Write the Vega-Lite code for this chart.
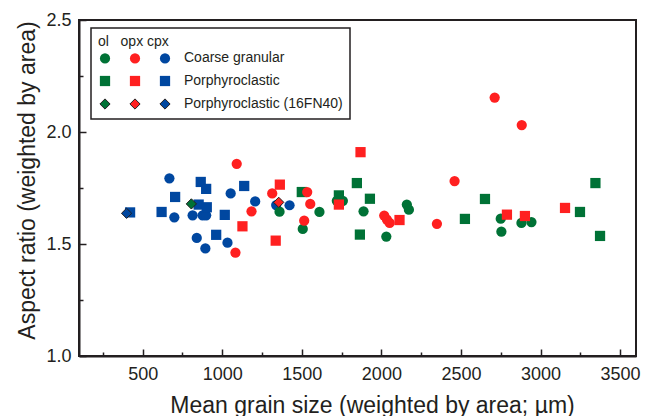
{
  "$schema": "https://vega.github.io/schema/vega-lite/v6.json",
  "width": 557,
  "height": 336,
  "autosize": {"type": "none"},
  "padding": {"left": 79, "top": 20, "right": 10, "bottom": 60},
  "background": "white",
  "config": {
    "font": "Liberation Sans",
    "view": {"stroke": "#231f20", "strokeWidth": 2},
    "legend": {"symbolSize": 144},
    "axis": {
      "domainColor": "#231f20", "domainWidth": 2,
      "tickColor": "#231f20", "tickWidth": 1.5,
      "labelColor": "#231f20", "titleColor": "#231f20",
      "labelFont": "Liberation Sans", "titleFont": "Liberation Sans",
      "labelFontSize": 18, "titleFontSize": 23, "titleFontWeight": "normal",
      "grid": false
    }
  },
  "data": {
    "values": [
      {"series": "cpx|Coarse granular", "grain_size": 668, "aspect_ratio": 1.793},
      {"series": "cpx|Coarse granular", "grain_size": 699, "aspect_ratio": 1.619},
      {"series": "cpx|Coarse granular", "grain_size": 814, "aspect_ratio": 1.628},
      {"series": "cpx|Coarse granular", "grain_size": 877, "aspect_ratio": 1.628},
      {"series": "cpx|Coarse granular", "grain_size": 899, "aspect_ratio": 1.628},
      {"series": "cpx|Coarse granular", "grain_size": 840, "aspect_ratio": 1.527},
      {"series": "cpx|Coarse granular", "grain_size": 894, "aspect_ratio": 1.480},
      {"series": "cpx|Coarse granular", "grain_size": 1053, "aspect_ratio": 1.726},
      {"series": "cpx|Coarse granular", "grain_size": 1207, "aspect_ratio": 1.690},
      {"series": "cpx|Coarse granular", "grain_size": 1339, "aspect_ratio": 1.674},
      {"series": "cpx|Coarse granular", "grain_size": 1423, "aspect_ratio": 1.673},
      {"series": "cpx|Coarse granular", "grain_size": 1033, "aspect_ratio": 1.506},
      {"series": "cpx|Porphyroclastic", "grain_size": 421, "aspect_ratio": 1.641},
      {"series": "cpx|Porphyroclastic", "grain_size": 865, "aspect_ratio": 1.777},
      {"series": "cpx|Porphyroclastic", "grain_size": 899, "aspect_ratio": 1.746},
      {"series": "cpx|Porphyroclastic", "grain_size": 704, "aspect_ratio": 1.710},
      {"series": "cpx|Porphyroclastic", "grain_size": 852, "aspect_ratio": 1.676},
      {"series": "cpx|Porphyroclastic", "grain_size": 903, "aspect_ratio": 1.664},
      {"series": "cpx|Porphyroclastic", "grain_size": 619, "aspect_ratio": 1.643},
      {"series": "cpx|Porphyroclastic", "grain_size": 962, "aspect_ratio": 1.541},
      {"series": "cpx|Porphyroclastic", "grain_size": 1138, "aspect_ratio": 1.759},
      {"series": "cpx|Porphyroclastic", "grain_size": 1016, "aspect_ratio": 1.630},
      {"series": "ol|Coarse granular", "grain_size": 1360, "aspect_ratio": 1.644},
      {"series": "ol|Coarse granular", "grain_size": 1611, "aspect_ratio": 1.643},
      {"series": "ol|Coarse granular", "grain_size": 1506, "aspect_ratio": 1.567},
      {"series": "ol|Coarse granular", "grain_size": 1720, "aspect_ratio": 1.693},
      {"series": "ol|Coarse granular", "grain_size": 1758, "aspect_ratio": 1.693},
      {"series": "ol|Coarse granular", "grain_size": 1888, "aspect_ratio": 1.646},
      {"series": "ol|Coarse granular", "grain_size": 2031, "aspect_ratio": 1.533},
      {"series": "ol|Coarse granular", "grain_size": 2160, "aspect_ratio": 1.676},
      {"series": "ol|Coarse granular", "grain_size": 2173, "aspect_ratio": 1.653},
      {"series": "ol|Coarse granular", "grain_size": 2750, "aspect_ratio": 1.613},
      {"series": "ol|Coarse granular", "grain_size": 2754, "aspect_ratio": 1.555},
      {"series": "ol|Coarse granular", "grain_size": 2880, "aspect_ratio": 1.594},
      {"series": "ol|Coarse granular", "grain_size": 2943, "aspect_ratio": 1.598},
      {"series": "ol|Porphyroclastic", "grain_size": 1500, "aspect_ratio": 1.732},
      {"series": "ol|Porphyroclastic", "grain_size": 1846, "aspect_ratio": 1.772},
      {"series": "ol|Porphyroclastic", "grain_size": 1733, "aspect_ratio": 1.717},
      {"series": "ol|Porphyroclastic", "grain_size": 1928, "aspect_ratio": 1.702},
      {"series": "ol|Porphyroclastic", "grain_size": 1865, "aspect_ratio": 1.542},
      {"series": "ol|Porphyroclastic", "grain_size": 2525, "aspect_ratio": 1.612},
      {"series": "ol|Porphyroclastic", "grain_size": 2651, "aspect_ratio": 1.701},
      {"series": "ol|Porphyroclastic", "grain_size": 3345, "aspect_ratio": 1.772},
      {"series": "ol|Porphyroclastic", "grain_size": 3248, "aspect_ratio": 1.643},
      {"series": "ol|Porphyroclastic", "grain_size": 3374, "aspect_ratio": 1.536},
      {"series": "opx|Coarse granular", "grain_size": 1091, "aspect_ratio": 1.858},
      {"series": "opx|Coarse granular", "grain_size": 1314, "aspect_ratio": 1.726},
      {"series": "opx|Coarse granular", "grain_size": 1534, "aspect_ratio": 1.732},
      {"series": "opx|Coarse granular", "grain_size": 1553, "aspect_ratio": 1.679},
      {"series": "opx|Coarse granular", "grain_size": 1184, "aspect_ratio": 1.646},
      {"series": "opx|Coarse granular", "grain_size": 1515, "aspect_ratio": 1.604},
      {"series": "opx|Coarse granular", "grain_size": 1083, "aspect_ratio": 1.462},
      {"series": "opx|Coarse granular", "grain_size": 2018, "aspect_ratio": 1.627},
      {"series": "opx|Coarse granular", "grain_size": 2035, "aspect_ratio": 1.609},
      {"series": "opx|Coarse granular", "grain_size": 2052, "aspect_ratio": 1.594},
      {"series": "opx|Coarse granular", "grain_size": 2460, "aspect_ratio": 1.781},
      {"series": "opx|Coarse granular", "grain_size": 2349, "aspect_ratio": 1.590},
      {"series": "opx|Coarse granular", "grain_size": 2712, "aspect_ratio": 2.154},
      {"series": "opx|Coarse granular", "grain_size": 2882, "aspect_ratio": 2.031},
      {"series": "opx|Porphyroclastic", "grain_size": 1362, "aspect_ratio": 1.765},
      {"series": "opx|Porphyroclastic", "grain_size": 1127, "aspect_ratio": 1.579},
      {"series": "opx|Porphyroclastic", "grain_size": 1336, "aspect_ratio": 1.515},
      {"series": "opx|Porphyroclastic", "grain_size": 1733, "aspect_ratio": 1.676},
      {"series": "opx|Porphyroclastic", "grain_size": 2114, "aspect_ratio": 1.607},
      {"series": "opx|Porphyroclastic", "grain_size": 2789, "aspect_ratio": 1.631},
      {"series": "opx|Porphyroclastic", "grain_size": 2902, "aspect_ratio": 1.625},
      {"series": "opx|Porphyroclastic", "grain_size": 3154, "aspect_ratio": 1.661},
      {"series": "opx|Porphyroclastic", "grain_size": 1869, "aspect_ratio": 1.910},
      {"series": "ol|Porphyroclastic (16FN40)", "grain_size": 806, "aspect_ratio": 1.679},
      {"series": "opx|Porphyroclastic (16FN40)", "grain_size": 1355, "aspect_ratio": 1.686},
      {"series": "cpx|Porphyroclastic (16FN40)", "grain_size": 399, "aspect_ratio": 1.637}
    ]
  },
  "mark": {"type": "point", "filled": true, "opacity": 1, "strokeWidth": 1},
  "encoding": {
    "x": {
      "field": "grain_size", "type": "quantitative",
      "scale": {"domain": [100, 3600], "nice": false, "zero": false},
      "axis": {
        "title": "Mean grain size (weighted by area; µm)",
        "values": [250, 500, 750, 1000, 1250, 1500, 1750, 2000, 2250, 2500, 2750, 3000, 3250, 3500],
        "format": "d",
        "labelExpr": "datum.value % 500 === 0 ? datum.label : ''",
        "tickSize": {"condition": {"test": "datum.value % 500 === 0", "value": -7}, "value": -4},
        "labelPadding": 16,
        "titlePadding": 11,
        "titleX": 293
      }
    },
    "y": {
      "field": "aspect_ratio", "type": "quantitative",
      "scale": {"domain": [1.0, 2.5], "nice": false, "zero": false},
      "axis": {
        "title": "Aspect ratio (weighted by area)",
        "values": [1.0, 1.25, 1.5, 1.75, 2.0, 2.25, 2.5],
        "labelExpr": "(datum.value * 2) % 1 === 0 ? format(datum.value, '.1f') : ''",
        "tickSize": {"condition": {"test": "(datum.value * 2) % 1 === 0", "value": -7}, "value": -4},
        "labelPadding": 15,
        "titlePadding": 6,
        "titleY": 160
      }
    },
    "color": {
      "field": "series", "type": "nominal",
      "scale": {
        "domain": ["ol|Coarse granular", "opx|Coarse granular", "cpx|Coarse granular", "ol|Porphyroclastic", "opx|Porphyroclastic", "cpx|Porphyroclastic", "ol|Porphyroclastic (16FN40)", "opx|Porphyroclastic (16FN40)", "cpx|Porphyroclastic (16FN40)"],
        "range": ["#007236", "#ff2020", "#0047a0", "#007236", "#ff2020", "#0047a0", "#007236", "#ff2020", "#0047a0"]
      },
      "legend": {
        "orient": "none", "legendX": 12, "legendY": 8,
        "direction": "horizontal",
        "columns": 3,
        "title": "ol\u00a0\u00a0\u00a0opx cpx",
        "titleFont": "Liberation Sans", "titleFontSize": 14, "titleFontWeight": "normal", "titleColor": "#231f20",
        "titlePadding": 2,
        "labelFont": "Liberation Sans", "labelFontSize": 14, "labelColor": "#231f20",
        "labelOffset": 12,
        "labelExpr": "split(datum.label, '|')[0] === 'cpx' ? split(datum.label, '|')[1] : ''",
        "strokeColor": "#231f20", "fillColor": "white",
        "padding": 7, "rowPadding": 7, "columnPadding": 3,
        "symbolSize": 144,
        "symbolStrokeWidth": 1, "symbolOpacity": 1,
        "encode": {
          "legend": {"update": {"strokeWidth": {"value": 1.5}}}
        }
      }
    },
    "shape": {
      "field": "series", "type": "nominal",
      "scale": {
        "domain": ["ol|Coarse granular", "opx|Coarse granular", "cpx|Coarse granular", "ol|Porphyroclastic", "opx|Porphyroclastic", "cpx|Porphyroclastic", "ol|Porphyroclastic (16FN40)", "opx|Porphyroclastic (16FN40)", "cpx|Porphyroclastic (16FN40)"],
        "range": ["circle", "circle", "circle", "square", "square", "square", "diamond", "diamond", "diamond"]
      }
    },
    "stroke": {
      "field": "series", "type": "nominal",
      "scale": {
        "domain": ["ol|Coarse granular", "opx|Coarse granular", "cpx|Coarse granular", "ol|Porphyroclastic", "opx|Porphyroclastic", "cpx|Porphyroclastic", "ol|Porphyroclastic (16FN40)", "opx|Porphyroclastic (16FN40)", "cpx|Porphyroclastic (16FN40)"],
        "range": ["transparent", "transparent", "transparent", "transparent", "transparent", "transparent", "#231f20", "#231f20", "#231f20"]
      }
    },
    "size": {
      "field": "series", "type": "nominal",
      "scale": {
        "domain": ["ol|Coarse granular", "opx|Coarse granular", "cpx|Coarse granular", "ol|Porphyroclastic", "opx|Porphyroclastic", "cpx|Porphyroclastic", "ol|Porphyroclastic (16FN40)", "opx|Porphyroclastic (16FN40)", "cpx|Porphyroclastic (16FN40)"],
        "range": [105, 105, 105, 90, 90, 90, 160, 160, 160]
      },
      "legend": null
    }
  }
}
